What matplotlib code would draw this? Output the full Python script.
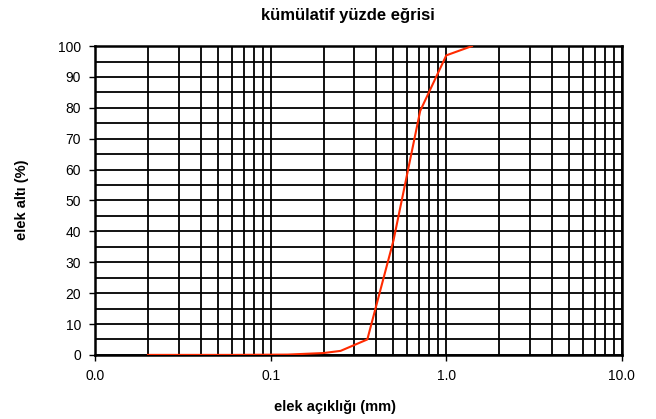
import matplotlib.pyplot as plt
from matplotlib.ticker import FixedLocator, LogLocator, NullFormatter

plt.rcParams['font.family'] = ['Liberation Sans', 'DejaVu Sans']

# elek açıklığı (mm) ve elek altı (%)
elek = [0.02, 0.063, 0.125, 0.2, 0.25, 0.355, 0.5, 0.71, 1.0, 1.4]
gecen = [0, 0, 0.1, 0.6, 1.3, 5, 37, 79, 97, 100]

x_ticks = [0.01, 0.1, 1, 10]
x_labels = ['0.0', '0.1', '1.0', '10.0']
y_ticks = list(range(0, 101, 10))

fig = plt.figure(figsize=(6.56, 4.19), dpi=100)
ax = fig.add_axes([0.145, 0.153, 0.803, 0.737])

ax.plot(elek, gecen, color='#ff2a00', lw=1.5, zorder=3)

ax.set_xscale('log')
ax.set_xlim(0.01, 10)
ax.set_ylim(0, 100)
ax.xaxis.set_major_locator(FixedLocator(x_ticks))
ax.set_xticklabels(x_labels)
ax.xaxis.set_minor_locator(LogLocator(base=10, subs=range(2, 10)))
ax.xaxis.set_minor_formatter(NullFormatter())
ax.set_yticks(y_ticks)
ax.yaxis.set_minor_locator(FixedLocator(range(5, 100, 10)))

ax.grid(True, which='both', color='black', lw=1.3)
ax.tick_params(which='minor', length=0)
ax.tick_params(which='major', length=4, width=1, labelsize=10, pad=6)
for s in ax.spines.values():
    s.set_linewidth(1.8)

# başlık ve eksen adları
fig.text(0.530, 0.964, 'kümülatif yüzde eğrisi', fontsize=12, fontweight='bold',
         ha='center', va='center')
fig.text(0.510, 0.029, 'elek açıklığı (mm)', fontsize=10.5, fontweight='bold',
         ha='center', va='center')
fig.text(0.034, 0.523, 'elek altı (%)', fontsize=10.5, fontweight='bold',
         ha='center', va='center', rotation=90)

fig.savefig('out.png', dpi=100)
